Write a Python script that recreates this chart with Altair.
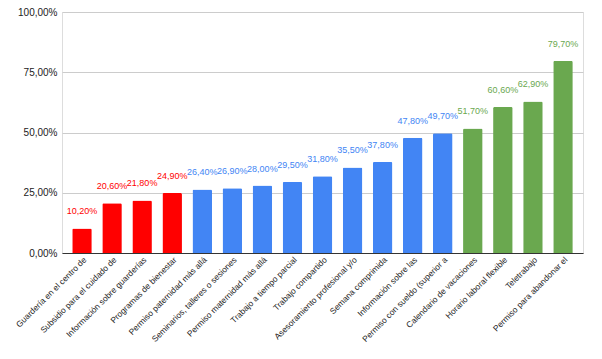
import altair as alt
import pandas as pd

categories = [
    "Guardería en el centro de",
    "Subsidio para el cuidado de",
    "Información sobre guarderías",
    "Programas de bienestar",
    "Permiso paternidad más allá",
    "Seminarios, talleres o sesiones",
    "Permiso maternidad más allá",
    "Trabajo a tiempo parcial",
    "Trabajo compartido",
    "Asesoramiento profesional y/o",
    "Semana comprimida",
    "Información sobre las",
    "Permiso con sueldo (superior a",
    "Calendario de vacaciones",
    "Horario laboral flexible",
    "Teletrabajo",
    "Permiso para abandonar el",
]
values = [0.102, 0.206, 0.218, 0.249, 0.264, 0.269, 0.280, 0.295, 0.318,
          0.355, 0.378, 0.478, 0.497, 0.517, 0.606, 0.629, 0.797]
groups = ["low"] * 4 + ["mid"] * 9 + ["high"] * 4

group_domain = ["low", "mid", "high"]
group_colors = ["#ff0000", "#4285f4", "#6aa84f"]

df = pd.DataFrame({"cat": categories, "val": values, "grp": groups})
df["label"] = df["val"].map(lambda v: f"{v*100:.2f}%".replace(".", ","))

color = alt.Color("grp:N", scale=alt.Scale(domain=group_domain, range=group_colors), legend=None)
x = alt.X("cat:N", sort=None, title=None,
          scale=alt.Scale(paddingInner=0.35, paddingOuter=0.34),
          axis=alt.Axis(labelAngle=-45, labelAlign="right", labelBaseline="top",
                        labelFontSize=8.4, labelColor="#222222", labelPadding=2,
                        ticks=False, domainColor="#333333", labelLimit=200,
                        grid=False, labelFont="Liberation Sans"))
y = alt.Y("val:Q", title=None,
          scale=alt.Scale(domain=[0, 1]),
          axis=alt.Axis(values=[0, 0.25, 0.5, 0.75, 1.0],
                        labelExpr="replace(format(datum.value, '.2%'), '.', ',')",
                        labelFontSize=10, labelColor="#222222", labelPadding=5,
                        ticks=False, domain=False, gridColor="#cccccc",
                        labelFont="Liberation Sans"))

bars = alt.Chart(df).mark_bar(cornerRadiusTopLeft=1.5, cornerRadiusTopRight=1.5).encode(
    x=x, y=y, color=color)
text = alt.Chart(df).mark_text(baseline="bottom", dy=-12, fontSize=9,
                               font="Liberation Sans").encode(
    x=alt.X("cat:N", sort=None), y=alt.Y("val:Q"), text="label:N", color=color)

chart = (bars + text).properties(
    width=521, height=241,
    autosize=alt.AutoSizeParams(type="none"),
    padding={"left": 54, "top": 4, "right": 11, "bottom": 90},
).configure_view(stroke="transparent", strokeWidth=0).configure_axisY(domain=False).configure(background="white")

chart.save("out.html", embed_options={"renderer": "svg", "actions": False})
